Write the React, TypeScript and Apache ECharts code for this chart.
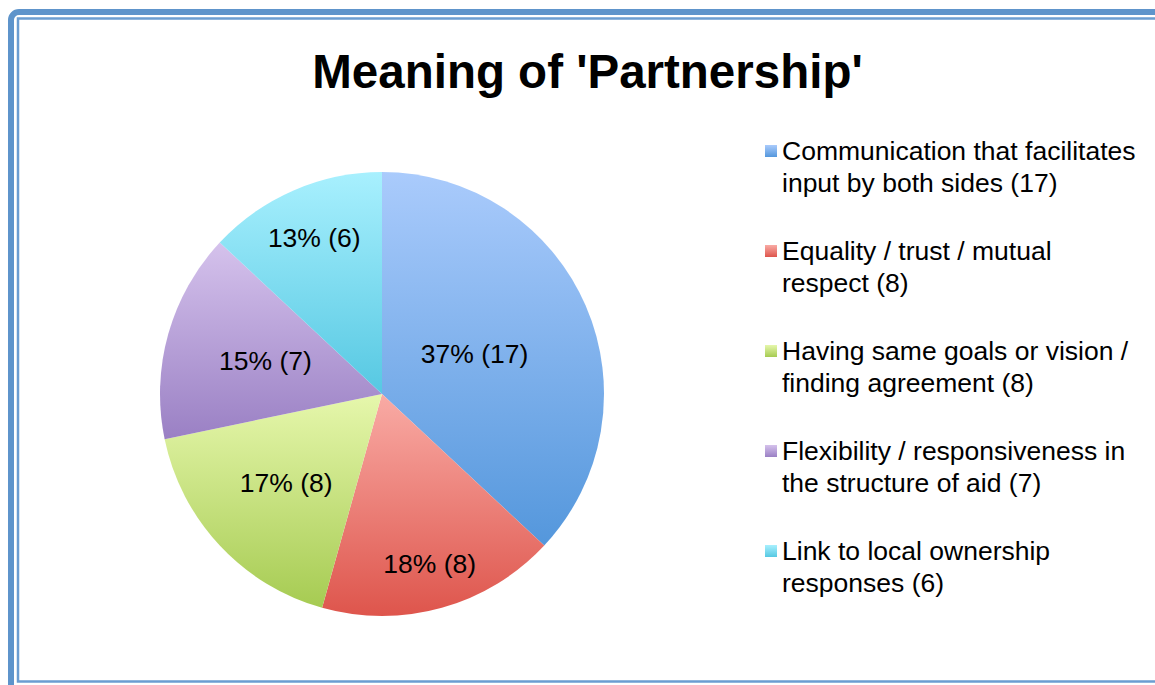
import React, { useEffect, useRef } from 'react';
import * as echarts from 'echarts';

// ---- data ----
const titleText = "Meaning of 'Partnership'";
const categories = [
  'Communication that facilitates\ninput by both sides (17)',
  'Equality / trust / mutual\nrespect (8)',
  'Having same goals or vision /\nfinding agreement (8)',
  'Flexibility / responsiveness in\nthe structure of aid (7)',
  'Link to local ownership\nresponses (6)',
];
const counts = [17, 8, 8, 7, 6];

// ---- styles ----
const FONT = '"Liberation Sans", Arial, sans-serif';
const topColors = ['#AACBFC', '#F9ABA5', '#E6F7AC', '#D5C2EC', '#A8F0FE'];
const bottomColors = ['#5497DC', '#DE554C', '#A6CB52', '#9A80C4', '#56C8E2'];
const labelRadius = [98, 174, 128, 118, 167];
const PIE_R = 222;
const CENTER = [382, 394];
const ICON = 'path://M0,10L12,10L12,22L0,22Z M0,0L0.01,0 M0,64L0.01,64';

export default function App() {
  const ref = useRef<HTMLDivElement>(null);
  useEffect(() => {
    if (!ref.current) return;
    const chart = echarts.init(ref.current, undefined, { renderer: 'svg' });
    const sliceGrad = (i: number) =>
      new echarts.graphic.LinearGradient(0, 0, 0, 1, [
        { offset: 0, color: topColors[i] },
        { offset: 1, color: bottomColors[i] },
      ]);
    const iconGrad = (i: number) =>
      new echarts.graphic.LinearGradient(0, 0, 0, 1, [
        { offset: 0.156, color: topColors[i] },
        { offset: 0.344, color: bottomColors[i] },
      ]);

    const mainSeries = {
      type: 'pie',
      center: CENTER,
      radius: PIE_R,
      startAngle: 90,
      clockwise: true,
      percentPrecision: 0,
      label: { show: false },
      labelLine: { show: false },
      itemStyle: { borderWidth: 0 },
      emphasis: { disabled: true },
      silent: true,
      data: counts.map((v, i) => ({ value: v, name: categories[i], itemStyle: { color: sliceGrad(i) } })),
    };

    const labelSeries = labelRadius.map((lr, k) => ({
      type: 'pie',
      center: CENTER,
      radius: [0, 2 * lr],
      startAngle: 90,
      clockwise: true,
      percentPrecision: 0,
      silent: true,
      z: 3,
      emphasis: { disabled: true },
      itemStyle: { color: 'rgba(0,0,0,0)', borderWidth: 0 },
      labelLine: { show: false },
      label: { show: false },
      data: counts.map((v, i) => ({
        value: v,
        name: categories[i],
        label:
          i === k
            ? {
                show: true,
                position: 'inside',
                formatter: '{d}% ({c})',
                fontSize: 26.5,
                fontFamily: FONT,
                color: '#000',
              }
            : { show: false },
      })),
    }));

    chart.setOption({
      animation: false,
      backgroundColor: '#fff',
      legend: {
        orient: 'vertical',
        left: 765,
        top: 135,
        padding: 0,
        itemWidth: 12,
        itemHeight: 64,
        itemGap: 36,
        icon: ICON,
        selectedMode: false,
        itemStyle: { borderWidth: 0 },
        textStyle: { fontSize: 26.5, lineHeight: 32, fontFamily: FONT, color: '#000' },
        data: categories.map((name, i) => ({ name, itemStyle: { color: iconGrad(i) } })),
      },
      graphic: [
        {
          type: 'rect',
          silent: true,
          shape: { x: 11, y: 12, width: 1200, height: 720, r: 8 },
          style: { fill: 'none', stroke: '#5E94CB', lineWidth: 6 },
        },
        {
          type: 'rect',
          silent: true,
          shape: { x: 18, y: 18.5, width: 1200, height: 663 },
          style: { fill: 'none', stroke: '#6B9DD1', lineWidth: 2.5 },
        },
        {
          type: 'text',
          silent: true,
          x: 587.5,
          y: 71,
          style: {
            text: titleText,
            fontSize: 47.5,
            fontWeight: 'bold',
            fontFamily: FONT,
            fill: '#000',
            align: 'center',
            verticalAlign: 'middle',
          },
        },
      ],
      series: [mainSeries, ...labelSeries],
    });
    return () => chart.dispose();
  }, []);
  return (
    <div
      ref={ref}
      style={{ position: 'fixed', left: 0, top: 0, width: 1155, height: 685, background: '#fff' }}
    />
  );
}
